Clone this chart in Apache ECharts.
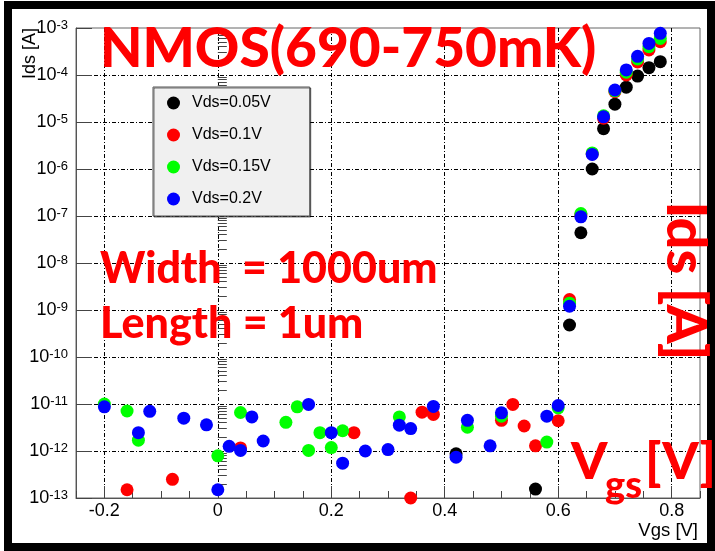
<!DOCTYPE html>
<html>
<head>
<meta charset="utf-8">
<script src="https://cdn.jsdelivr.net/npm/echarts@6/dist/echarts.min.js"></script>
<style>
html,body{margin:0;padding:0;background:#fff;}
#c{width:715px;height:551px;}
</style>
</head>
<body>
<div id="c"></div>
<script>
// ---- tick labels ----
const xTicks = [-0.2, 0, 0.2, 0.4, 0.6, 0.8];
const yExponents = [-13, -12, -11, -10, -9, -8, -7, -6, -5, -4, -3];
const legendNames = ['Vds=0.05V', 'Vds=0.1V', 'Vds=0.15V', 'Vds=0.2V'];
const seriesColors = ['#000000', '#ff0000', '#00ff00', '#0000ff'];

// ---- Vds = 0.05 V ----
const vgs005 = [0.42, 0.56, 0.62, 0.64, 0.66, 0.68, 0.70, 0.72, 0.74, 0.76, 0.78];
const ids005 = [8.7e-13, 1.55e-13, 4.8e-10, 4.4e-8, 1.0e-6, 7.2e-6, 2.4e-5, 5.5e-5, 9.5e-5, 1.43e-4, 1.92e-4];

// ---- Vds = 0.1 V ----
const vgs01 = [-0.16, -0.08, 0.04, 0.24, 0.34, 0.36, 0.38, 0.50, 0.52, 0.54, 0.56, 0.60,
               0.62, 0.64, 0.66, 0.68, 0.70, 0.72, 0.74, 0.76, 0.78];
const ids01 = [1.5e-13, 2.5e-13, 1.16e-12, 2.46e-12, 1.0e-13, 6.7e-12, 6.0e-12, 4.5e-12, 9.8e-12, 3.4e-12, 1.29e-12, 4.4e-12,
               1.67e-9, 1.05e-7, 2.1e-6, 1.2e-5, 4.4e-5, 1.0e-4, 1.9e-4, 3.4e-4, 5.1e-4];

// ---- Vds = 0.15 V ----
const vgs015 = [-0.2, -0.16, -0.14, 0.0, 0.04, 0.12, 0.14, 0.16, 0.18, 0.20, 0.22, 0.32, 0.44, 0.50, 0.58, 0.60,
                0.62, 0.64, 0.66, 0.68, 0.70, 0.72, 0.74, 0.76, 0.78];
const ids015 = [1.0e-11, 7.1e-12, 1.7e-12, 7.9e-13, 6.6e-12, 4.07e-12, 8.7e-12, 1.03e-12, 2.46e-12, 1.18e-12, 2.7e-12, 5.3e-12, 3.2e-12, 5.5e-12, 1.55e-12, 8.3e-12,
                1.4e-9, 1.13e-7, 2.2e-6, 1.35e-5, 4.6e-5, 1.15e-4, 2.2e-4, 4.0e-4, 6.0e-4];

// ---- Vds = 0.2 V ----
const vgs02 = [-0.2, -0.14, -0.12, -0.06, -0.02, 0.0, 0.02, 0.04, 0.06, 0.08, 0.16, 0.20, 0.22, 0.26, 0.30, 0.32, 0.34, 0.38, 0.42, 0.44, 0.48, 0.50, 0.58, 0.60,
               0.62, 0.64, 0.66, 0.68, 0.70, 0.72, 0.74, 0.76, 0.78];
const ids02 = [8.7e-12, 2.46e-12, 7.0e-12, 5.0e-12, 3.6e-12, 1.5e-13, 1.26e-12, 1.03e-12, 5.3e-12, 1.63e-12, 9.8e-12, 2.46e-12, 5.5e-13, 1.0e-12, 1.07e-12, 3.55e-12, 3.0e-12, 8.9e-12, 7.4e-13, 4.5e-12, 1.29e-12, 6.5e-12, 5.5e-12, 9.3e-12,
               1.2e-9, 9.6e-8, 2.04e-6, 1.29e-5, 4.8e-5, 1.28e-4, 2.5e-4, 4.7e-4, 7.7e-4];

const allX = [vgs005, vgs01, vgs015, vgs02];
const allY = [ids005, ids01, ids015, ids02];

// minor tick positions of the log axis (in exponent space)
const minorY = [];
yExponents.slice(0, -1).forEach(function (n) {
  for (let k = 2; k <= 9; k++) minorY.push(n + Math.log10(k));
});

const gridDash = [4, 2, 1, 2];
const labelFont = 'Liberation Sans';
const annFont = 'Lato';
const annWeight = 900;

const chart = echarts.init(document.getElementById('c'), null, {renderer: 'canvas'});

const series = legendNames.map(function (name, i) {
  return {
    name: name,
    type: 'scatter',
    xAxisIndex: 0,
    yAxisIndex: 0,
    symbol: 'circle',
    symbolSize: 13,
    itemStyle: {color: seriesColors[i], opacity: 1},
    emphasis: {disabled: true},
    data: allX[i].map(function (x, j) { return [x, allY[i][j]]; })
  };
});

chart.setOption({
  animation: false,
  backgroundColor: '#ffffff',
  grid: {left: 76, top: 28, width: 624, height: 470, show: true, borderColor: '#666', borderWidth: 1, backgroundColor: 'transparent'},
  legend: {
    orient: 'vertical',
    left: 153, top: 87,
    padding: [8, 39, 9, 14],
    itemWidth: 13, itemHeight: 13, itemGap: 16,
    icon: 'circle',
    backgroundColor: '#f0f0f0',
    borderColor: '#555', borderWidth: 1,
    shadowColor: 'rgba(0,0,0,0.55)', shadowOffsetX: 1, shadowOffsetY: 1, shadowBlur: 0,
    textStyle: {fontFamily: labelFont, fontSize: 16, color: '#000', padding: [0, 0, 0, 7], lineHeight: 13},
    selectedMode: false,
    data: legendNames
  },
  xAxis: [
    {
      type: 'value', min: -0.25, max: 0.85, position: 'bottom',
      axisLine: {show: true, onZero: false, lineStyle: {color: '#555', width: 1}},
      axisTick: {show: true, inside: true, length: 12, customValues: xTicks, lineStyle: {color: '#444'}},
      axisLabel: {show: true, customValues: xTicks, margin: 4, fontFamily: labelFont, fontSize: 18, color: '#000'},
      splitLine: {show: true, lineStyle: {color: '#000', width: 1, type: gridDash}}
    },
    {
      type: 'value', min: -0.25, max: 0.85, interval: 0.05, position: 'bottom',
      axisLine: {show: false},
      axisTick: {show: true, inside: true, length: 7, lineStyle: {color: '#444'}},
      axisLabel: {show: false},
      splitLine: {show: false}
    }
  ],
  yAxis: [
    {
      type: 'log', logBase: 10, min: 1e-13, max: 1e-3, show: false
    },
    {
      type: 'value', min: -13, max: -3, interval: 1, position: 'left',
      axisLine: {show: true, onZero: false, lineStyle: {color: '#555', width: 1}},
      axisTick: {show: true, inside: true, length: 16, lineStyle: {color: '#444'}},
      axisLabel: {
        show: true, margin: 8,
        formatter: function (v) { return '{b|10}{s|' + v + '}'; },
        rich: {
          b: {fontFamily: labelFont, fontSize: 18, lineHeight: 18, color: '#000'},
          s: {fontFamily: labelFont, fontSize: 13, lineHeight: 6, verticalAlign: 'top', color: '#000'}
        }
      },
      splitLine: {show: true, showMinLine: false, showMaxLine: false, lineStyle: {color: '#000', width: 1, type: gridDash}}
    },
    {
      type: 'value', min: -13, max: -3, position: 'left',
      axisLine: {show: false},
      axisTick: {show: true, inside: true, length: 9, customValues: minorY, lineStyle: {color: '#444'}},
      axisLabel: {show: false},
      splitLine: {show: false}
    }
  ],
  graphic: [
    {type: 'rect', z: 100, silent: true, shape: {x: 8, y: 5, width: 703, height: 542},
     style: {fill: 'none', stroke: '#000', lineWidth: 8}},
    {type: 'text', z: 150, x: 30, y: 53.5, rotation: Math.PI / 2,
     style: {text: 'Ids [A]', fontFamily: labelFont, fontSize: 18, fill: '#000', align: 'center', verticalAlign: 'middle'}},
    {type: 'text', z: 150, x: 698, y: 531,
     style: {text: 'Vgs [V]', fontFamily: labelFont, fontSize: 18.5, fill: '#000', align: 'right', verticalAlign: 'middle'}},
    {type: 'text', z: 150, x: 100, y: 49,
     style: {text: 'NMOS(690-750mK)', fontFamily: annFont, fontWeight: annWeight, fontSize: 55, fill: '#ff0000', align: 'left', verticalAlign: 'middle'}},
    {type: 'text', z: 150, x: 100, y: 269.6,
     style: {text: 'Width  = 1000um', fontFamily: annFont, fontWeight: annWeight, fontSize: 43, fill: '#ff0000', align: 'left', verticalAlign: 'middle'}},
    {type: 'text', z: 150, x: 100, y: 324.6,
     style: {text: 'Length = 1um', fontFamily: annFont, fontWeight: annWeight, fontSize: 43, fill: '#ff0000', align: 'left', verticalAlign: 'middle'}},
    {type: 'text', z: 150, x: 685, y: 281, rotation: -Math.PI / 2,
     style: {text: 'Ids [A]', fontFamily: annFont, fontWeight: annWeight, fontSize: 56, fill: '#ff0000', align: 'center', verticalAlign: 'middle'}},
    {type: 'text', z: 150, x: 571, y: 462.5,
     style: {text: 'V', fontFamily: annFont, fontWeight: annWeight, fontSize: 52, fill: '#ff0000', align: 'left', verticalAlign: 'middle'}},
    {type: 'text', z: 150, x: 605, y: 485.3,
     style: {text: 'gs', fontFamily: annFont, fontWeight: annWeight, fontSize: 38, fill: '#ff0000', align: 'left', verticalAlign: 'middle'}},
    {type: 'text', z: 150, x: 645, y: 462.5,
     style: {text: '[V]', fontFamily: annFont, fontWeight: annWeight, fontSize: 52, fill: '#ff0000', align: 'left', verticalAlign: 'middle'}}
  ],
  series: series
});
</script>
</body>
</html>
